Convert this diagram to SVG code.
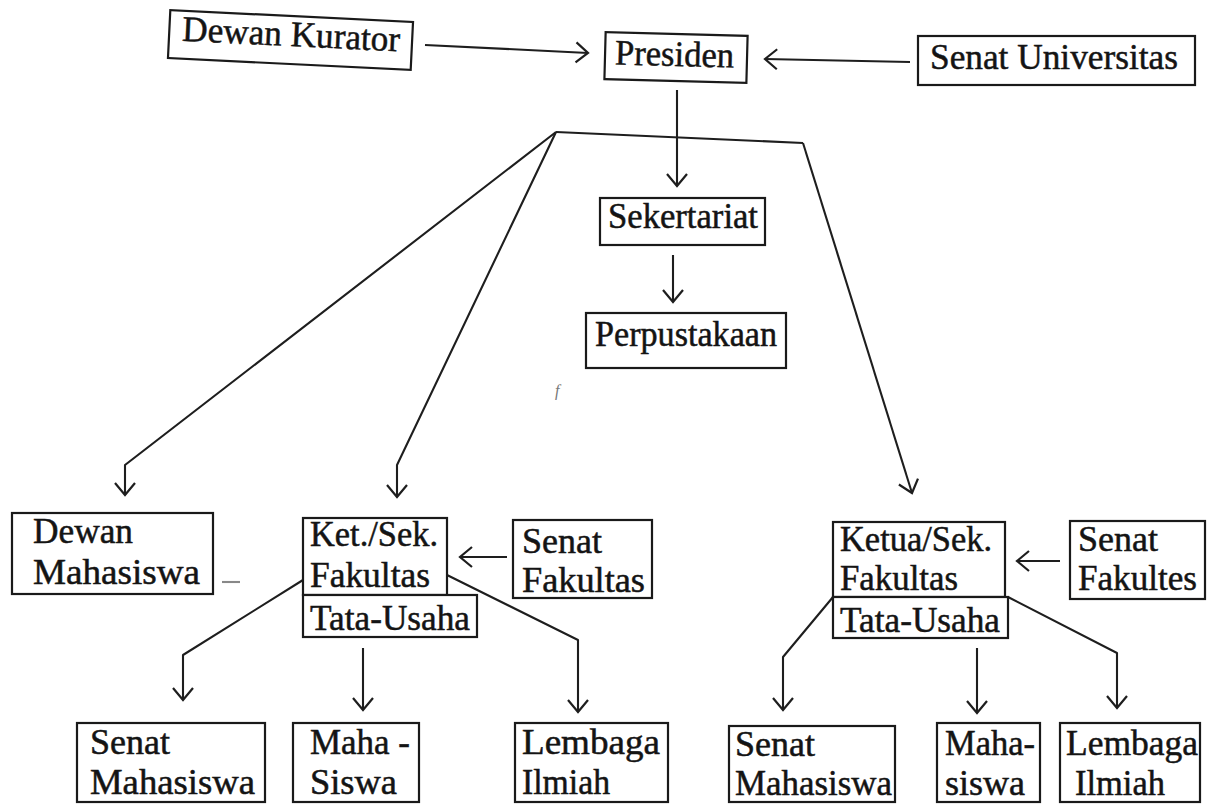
<svg xmlns="http://www.w3.org/2000/svg" width="1210" height="804" viewBox="0 0 1210 804">
<style>
.box{fill:#fff;stroke:#1a1a1a;stroke-width:2.2}
.t{font-family:"Liberation Serif","Times New Roman",serif;font-size:35px;fill:#141414;stroke:#141414;stroke-width:0.5}
.tb{font-size:36px}
.c{fill:none;stroke:#1e1e1e;stroke-width:2.1;stroke-linejoin:round}
</style>
<defs>
<marker id="a" markerUnits="userSpaceOnUse" viewBox="-14 -12 16 24" refX="0" refY="0" markerWidth="16" markerHeight="24" orient="auto">
<path d="M-12,-10 L0,0 L-12,10" fill="none" stroke="#1e1e1e" stroke-width="2.2"/>
</marker>
</defs>
<rect width="1210" height="804" fill="#fff"/>
<g id="connectors" class="c">
<path d="M425,45 L588,53" marker-end="url(#a)"/>
<path d="M910,62 L765,59" marker-end="url(#a)"/>
<path d="M677,90 L677,186" marker-end="url(#a)"/>
<path d="M556,132 L803,143"/>
<path d="M556,132 L125,465 L125,495" marker-end="url(#a)"/>
<path d="M556,132 L397,465 L397,497" marker-end="url(#a)"/>
<path d="M803,143 L912,493" marker-end="url(#a)"/>
<path d="M673,255 L673,302" marker-end="url(#a)"/>
<path d="M222,582 L240,582" stroke="#888"/>
<path d="M507,557 L460,557" marker-end="url(#a)"/>
<path d="M303,580 L183,655 L183,700" marker-end="url(#a)"/>
<path d="M363,648 L363,710" marker-end="url(#a)"/>
<path d="M447,575 L578,640 L578,712" marker-end="url(#a)"/>
<path d="M1060,561 L1017,561" marker-end="url(#a)"/>
<path d="M833,597 L783,657 L783,710" marker-end="url(#a)"/>
<path d="M977,648 L977,713" marker-end="url(#a)"/>
<path d="M1008,597 L1117,653 L1117,708" marker-end="url(#a)"/>
</g>
<g id="dewan-kurator" transform="rotate(2.8 290 40)">
<rect class="box" x="169" y="16" width="243" height="48"/>
<text class="t tb" x="182" y="46" textLength="218" lengthAdjust="spacingAndGlyphs">Dewan Kurator</text>
</g>
<g id="presiden" transform="rotate(1.5 676 58)">
<rect class="box" x="605" y="34" width="142" height="47"/>
<text class="t tb" x="615" y="66" textLength="119" lengthAdjust="spacingAndGlyphs">Presiden</text>
</g>
<g id="senat-universitas">
<rect class="box" x="918" y="36" width="277" height="49"/>
<text class="t tb" x="930" y="69" textLength="248" lengthAdjust="spacingAndGlyphs">Senat Universitas</text>
</g>
<g id="sekertariat">
<rect class="box" x="600" y="198" width="165" height="47"/>
<text class="t" x="608" y="228" textLength="150" lengthAdjust="spacingAndGlyphs">Sekertariat</text>
</g>
<g id="perpustakaan">
<rect class="box" x="586" y="313" width="200" height="55"/>
<text class="t" x="595" y="346" textLength="182" lengthAdjust="spacingAndGlyphs">Perpustakaan</text>
</g>
<text x="555" y="396" font-family="Liberation Serif, serif" font-style="italic" font-size="16" fill="#777">f</text>
<g id="dewan-mahasiswa">
<rect class="box" x="12" y="513" width="201" height="81"/>
<text class="t" x="33" y="543" textLength="100" lengthAdjust="spacingAndGlyphs">Dewan</text>
<text class="t" x="33" y="584" textLength="167" lengthAdjust="spacingAndGlyphs">Mahasiswa</text>
</g>
<g id="ket-sek-fakultas">
<rect class="box" x="303" y="518" width="144" height="77"/>
<text class="t" x="310" y="546" textLength="128" lengthAdjust="spacingAndGlyphs">Ket./Sek.</text>
<text class="t" x="310" y="587" textLength="120" lengthAdjust="spacingAndGlyphs">Fakultas</text>
</g>
<g id="tata-usaha-1">
<rect class="box" x="303" y="595" width="174" height="42"/>
<text class="t" x="310" y="630" textLength="160" lengthAdjust="spacingAndGlyphs">Tata-Usaha</text>
</g>
<g id="senat-fakultas-1">
<rect class="box" x="513" y="520" width="139" height="78"/>
<text class="t" x="522" y="553" textLength="80" lengthAdjust="spacingAndGlyphs">Senat</text>
<text class="t" x="522" y="592" textLength="123" lengthAdjust="spacingAndGlyphs">Fakultas</text>
</g>
<g id="senat-mahasiswa-1">
<rect class="box" x="77" y="723" width="188" height="79"/>
<text class="t" x="90" y="754" textLength="80" lengthAdjust="spacingAndGlyphs">Senat</text>
<text class="t" x="90" y="794" textLength="165" lengthAdjust="spacingAndGlyphs">Mahasiswa</text>
</g>
<g id="mahasiswa-1">
<rect class="box" x="293" y="723" width="126" height="79"/>
<text class="t" x="310" y="754" textLength="100" lengthAdjust="spacingAndGlyphs">Maha -</text>
<text class="t" x="310" y="794" textLength="87" lengthAdjust="spacingAndGlyphs">Siswa</text>
</g>
<g id="lembaga-ilmiah-1">
<rect class="box" x="515" y="723" width="153" height="79"/>
<text class="t" x="522" y="754" textLength="138" lengthAdjust="spacingAndGlyphs">Lembaga</text>
<text class="t" x="522" y="794" textLength="88" lengthAdjust="spacingAndGlyphs">Ilmiah</text>
</g>
<g id="ketua-sek-fakultas">
<rect class="box" x="833" y="522" width="172" height="75"/>
<text class="t" x="840" y="551" textLength="152" lengthAdjust="spacingAndGlyphs">Ketua/Sek.</text>
<text class="t" x="840" y="590" textLength="118" lengthAdjust="spacingAndGlyphs">Fakultas</text>
</g>
<g id="tata-usaha-2">
<rect class="box" x="833" y="597" width="175" height="41"/>
<text class="t" x="840" y="632" textLength="160" lengthAdjust="spacingAndGlyphs">Tata-Usaha</text>
</g>
<g id="senat-fakultas-2">
<rect class="box" x="1070" y="521" width="135" height="78"/>
<text class="t" x="1078" y="551" textLength="80" lengthAdjust="spacingAndGlyphs">Senat</text>
<text class="t" x="1078" y="590" textLength="119" lengthAdjust="spacingAndGlyphs">Fakultes</text>
</g>
<g id="senat-mahasiswa-2">
<rect class="box" x="729" y="726" width="166" height="76"/>
<text class="t" x="735" y="756" textLength="80" lengthAdjust="spacingAndGlyphs">Senat</text>
<text class="t" x="735" y="795" textLength="157" lengthAdjust="spacingAndGlyphs">Mahasiswa</text>
</g>
<g id="mahasiswa-2">
<rect class="box" x="937" y="723" width="103" height="79"/>
<text class="t" x="945" y="755" textLength="90" lengthAdjust="spacingAndGlyphs">Maha-</text>
<text class="t" x="945" y="795" textLength="80" lengthAdjust="spacingAndGlyphs">siswa</text>
</g>
<g id="lembaga-ilmiah-2">
<rect class="box" x="1060" y="723" width="140" height="79"/>
<text class="t" x="1066" y="755" textLength="132" lengthAdjust="spacingAndGlyphs">Lembaga</text>
<text class="t" x="1075" y="795" textLength="90" lengthAdjust="spacingAndGlyphs">Ilmiah</text>
</g>
</svg>
